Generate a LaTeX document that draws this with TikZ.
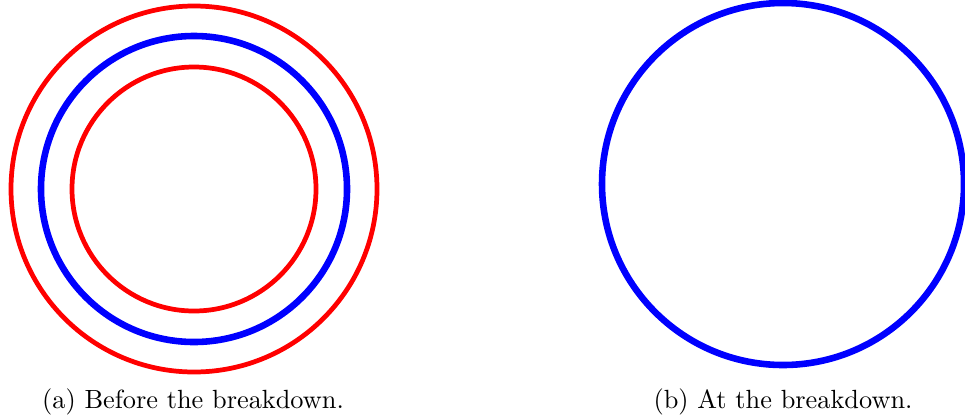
\documentclass[tikz,border=0pt]{standalone}
\usepackage{xcolor}
\usepackage{tikz}

\tikzset{
  ring/.style={draw=red, line width=1.8pt},
  core/.style={draw=blue, line width=2.5pt},
  caption/.style={anchor=base, inner sep=0pt}
}

\begin{document}
\begin{tikzpicture}[x=0.38pt, y=-0.38pt]
			\useasboundingbox (0,0) rectangle (965,417);

			% before the breakdown
			\coordinate (ca) at (194,189);
			\draw[ring] (ca) circle (183);
			\draw[core] (ca) circle (153);
			\draw[ring] (ca) circle (122);
			\node[caption] (capa) at (193,408) {(a) Before the breakdown.};

			% at the breakdown
			\coordinate (cb) at (783,184);
			\draw[core] (cb) circle (181);
			\node[caption] (capb) at (783,408) {(b) At the breakdown.};
		\end{tikzpicture}
\end{document}
